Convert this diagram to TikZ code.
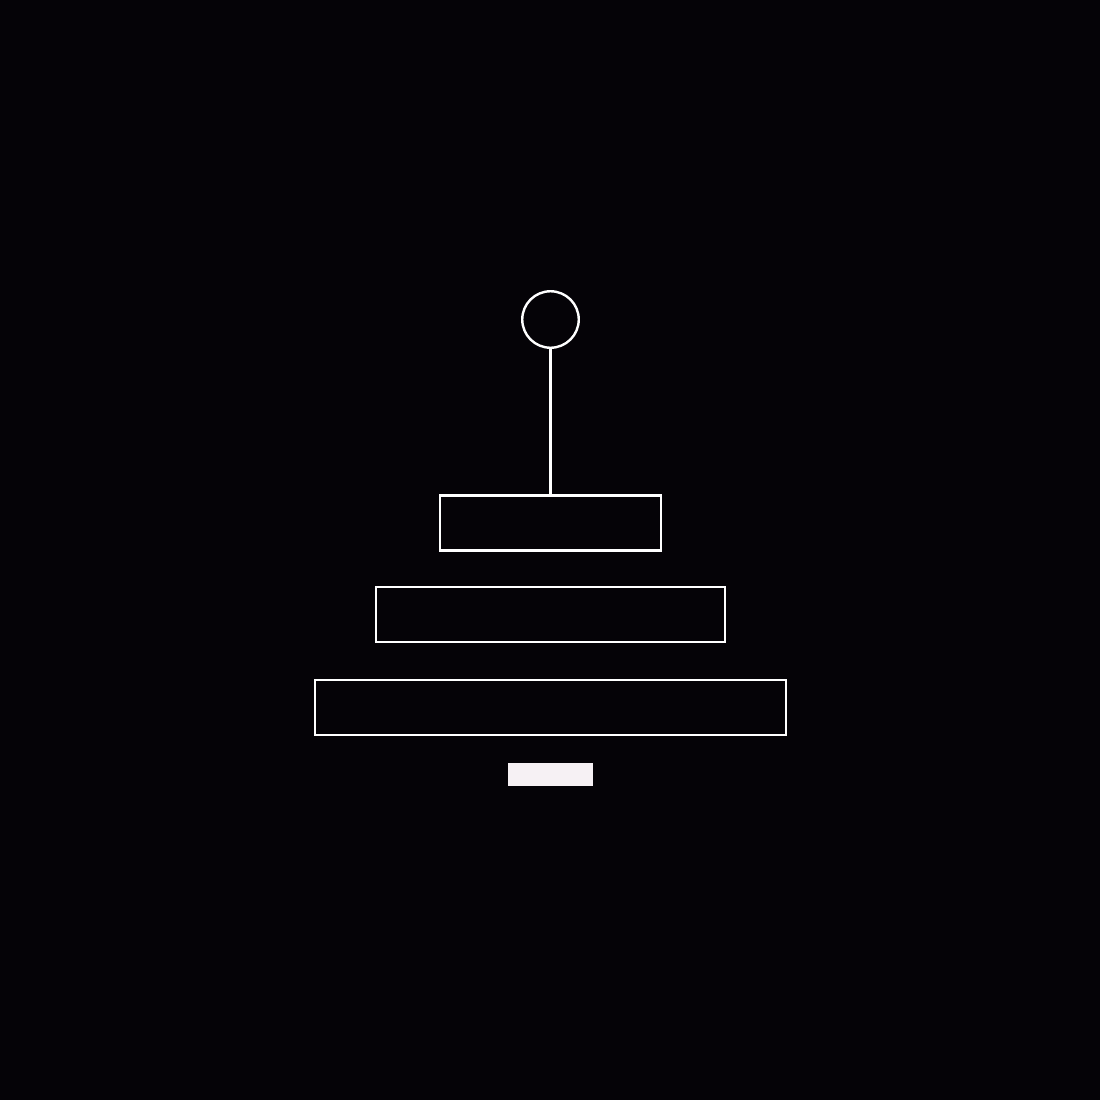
\documentclass[tikz,border=0pt]{standalone}
\usepackage{tikz}
\usetikzlibrary{positioning}
\definecolor{night}{HTML}{050307}
\definecolor{chalk}{HTML}{FFFFFF}
\definecolor{pale}{HTML}{F6F1F4}

\begin{document}
\begin{tikzpicture}[x=1pt, y=-1pt, node distance=92pt, on grid, line width=2.4pt,
  knob/.style={circle, draw=chalk, minimum size=56.5pt, inner sep=0pt},
  bar/.style={rectangle, draw=chalk, minimum height=55pt, inner sep=0pt},
  base/.style={rectangle, fill=pale, minimum width=85pt, minimum height=22.5pt, inner sep=0pt}]

\fill [night] (0,0) rectangle (1100,1100);
\useasboundingbox (0,0) rectangle (1100,1100);

\node [knob] (k) at (550.5,319.5) {};
\node [bar, minimum width=221.5pt] (b_1) at (550.5,522.8) {};
\node [bar, minimum width=349.5pt] (b_2) [below=91.5pt of b_1] {};
\node [bar, minimum width=470.5pt] (b_3) [below=93pt of b_2] {};
\node [base] (b_0) [below=67pt of b_3] {};

\draw [chalk] (k) -- (b_1);

\end{tikzpicture}
\end{document}
